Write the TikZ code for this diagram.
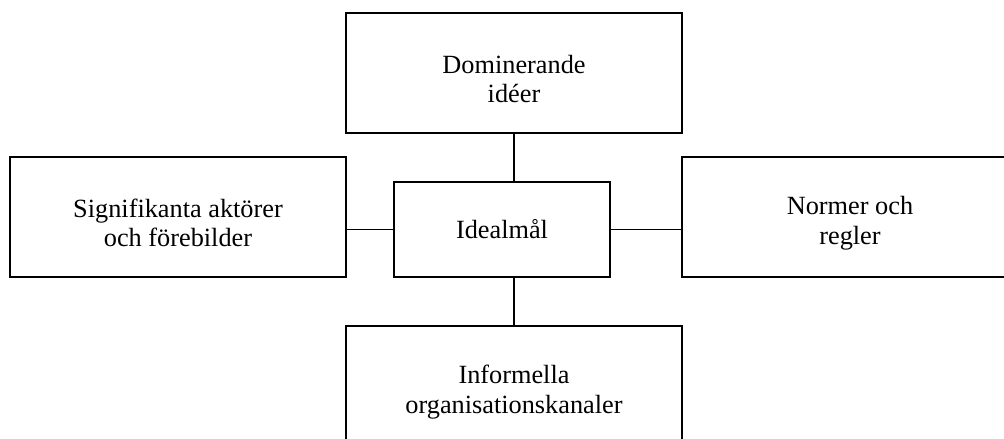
\documentclass[tikz,border=0pt]{standalone}
\usepackage{fontspec}
\setmainfont{Liberation Serif}
\begin{document}
\begin{tikzpicture}[x=0.025cm, y=-0.025cm, line width=1.2pt,
    font=\fontsize{18.7}{21}\selectfont,
    box/.style={draw, rectangle, inner sep=0pt,
                minimum width=8.4cm, minimum height=3cm},
    boxtext/.style={align=center, inner sep=0pt, yshift=-0.15cm}]
    \useasboundingbox (0,0) rectangle (1004,439);
    \clip (0,0) rectangle (1004,439);

    \node[box, label={[boxtext]center:{Dominerande\\id\'eer}}](ideas) at (514,73) {};
    \node[box, label={[boxtext]center:{Signifikanta akt\"orer\\och f\"orebilder}}](actors) at (178,217) {};
    \node[box, label={[boxtext]center:{Normer och\\regler}}](norms) at (850,217) {};
    \node[box, label={[boxtext]center:{Informella\\organisationskanaler}}](channels) at (514,386) {};

    \node[draw, rectangle, inner sep=0pt, minimum width=5.4cm,
          minimum height=2.375cm](goal) at (502,229.5) {Idealm\aa l};

    \draw (ideas.south) -- (ideas.south |- goal.north);
    \draw (channels.north) -- (channels.north |- goal.south);
    \draw (goal.west) -- (goal.west -| actors.east);
    \draw (goal.east) -- (goal.east -| norms.west);
\end{tikzpicture}
\end{document}
